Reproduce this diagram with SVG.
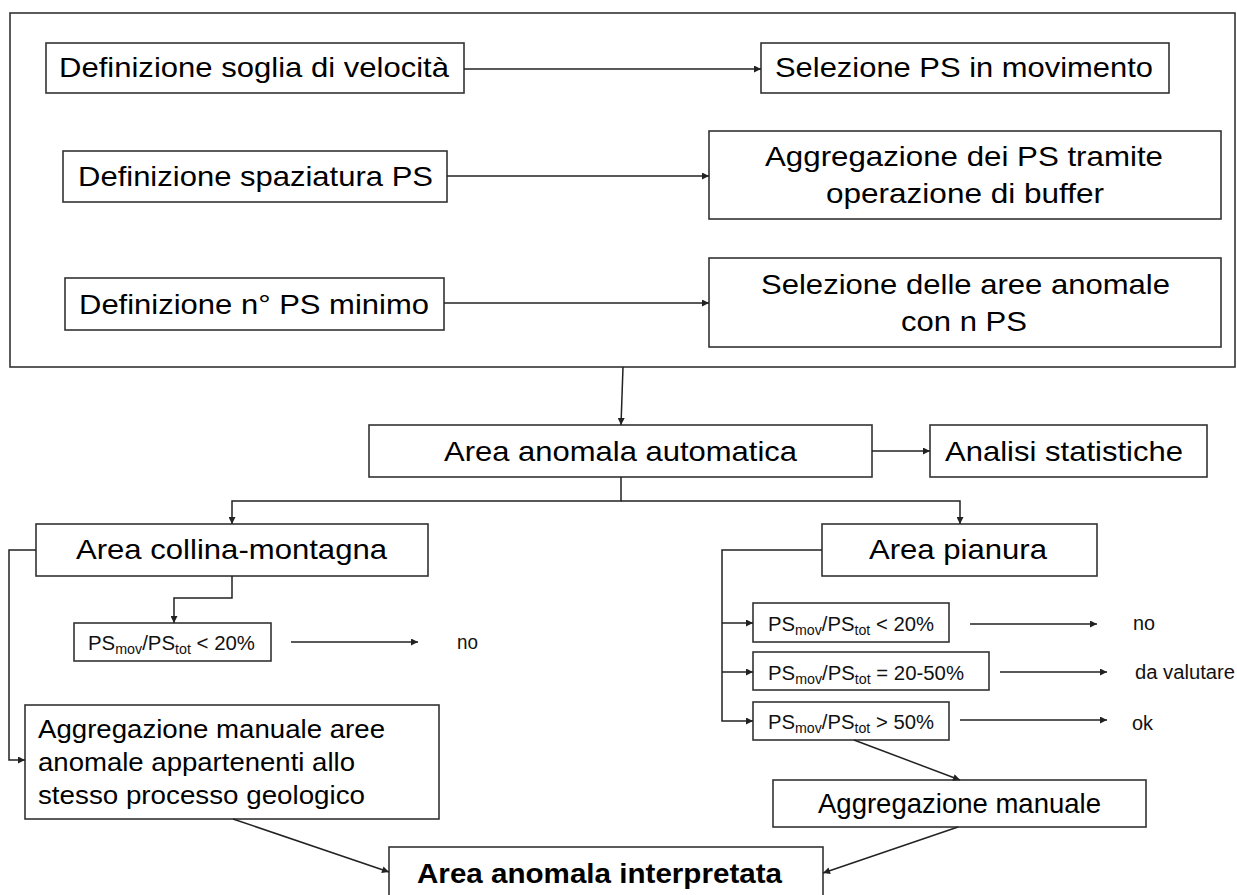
<svg xmlns="http://www.w3.org/2000/svg" width="1237" height="895" viewBox="0 0 1237 895">
<defs>
<marker id="ah" viewBox="0 0 10 10" refX="10" refY="5" markerWidth="9" markerHeight="7" markerUnits="userSpaceOnUse" orient="auto">
<path d="M0,0 L10,5 L0,10 z" fill="#222"/>
</marker>
<style>
.box{fill:#fff;stroke:#333;stroke-width:1.6}
.t{font-family:"Liberation Sans",Arial,sans-serif;font-size:28px;fill:#000}
.m{font-family:"Liberation Sans",Arial,sans-serif;font-size:26px;fill:#000}
.b{font-family:"Liberation Sans",Arial,sans-serif;font-size:28px;font-weight:bold;fill:#000}
.s{font-family:"Liberation Sans",Arial,sans-serif;font-size:20px;fill:#111}
.sub{font-size:14px}
.lbl{font-family:"Liberation Sans",Arial,sans-serif;font-size:20px;fill:#111}
.ca{fill:none;stroke:#222;stroke-width:1.5;marker-end:url(#ah)}
</style>
</defs>
<rect width="1237" height="895" fill="#fff"/>
<g id="frame"><rect class="box" x="10" y="13" width="1225" height="354"/></g>

<g id="n1"><rect class="box" x="46" y="43" width="418" height="50"/><text class="t" x="59" y="77" textLength="390" lengthAdjust="spacingAndGlyphs">Definizione soglia di velocità</text></g>
<g id="n2"><rect class="box" x="761" y="43" width="408" height="50"/><text class="t" x="775" y="77" textLength="378" lengthAdjust="spacingAndGlyphs">Selezione PS in movimento</text></g>
<g id="n3"><rect class="box" x="63" y="151" width="384" height="51"/><text class="t" x="78" y="186" textLength="355" lengthAdjust="spacingAndGlyphs">Definizione spaziatura PS</text></g>
<g id="n4"><rect class="box" x="709" y="131" width="512" height="88"/><text class="t" x="765" y="166" textLength="398" lengthAdjust="spacingAndGlyphs">Aggregazione dei PS tramite</text><text class="t" x="826" y="203" textLength="278" lengthAdjust="spacingAndGlyphs">operazione di buffer</text></g>
<g id="n5"><rect class="box" x="65" y="278" width="379" height="52"/><text class="t" x="79" y="314" textLength="350" lengthAdjust="spacingAndGlyphs">Definizione n° PS minimo</text></g>
<g id="n6"><rect class="box" x="709" y="258" width="512" height="89"/><text class="t" x="761" y="294" textLength="409" lengthAdjust="spacingAndGlyphs">Selezione delle aree anomale</text><text class="t" x="901" y="331" textLength="126" lengthAdjust="spacingAndGlyphs">con n PS</text></g>

<g id="n7"><rect class="box" x="369" y="425" width="503" height="52"/><text class="t" x="444" y="461" textLength="353" lengthAdjust="spacingAndGlyphs">Area anomala automatica</text></g>
<g id="n8"><rect class="box" x="930" y="425" width="277" height="52"/><text class="t" x="945" y="461" textLength="238" lengthAdjust="spacingAndGlyphs">Analisi statistiche</text></g>
<g id="n9"><rect class="box" x="36" y="524" width="392" height="52"/><text class="t" x="76" y="559" textLength="311" lengthAdjust="spacingAndGlyphs">Area collina-montagna</text></g>
<g id="n10"><rect class="box" x="822" y="524" width="275" height="52"/><text class="t" x="869" y="559" textLength="178" lengthAdjust="spacingAndGlyphs">Area pianura</text></g>

<g id="n11"><rect class="box" x="74" y="623" width="197" height="38"/><text class="s" x="88" y="650" textLength="167" lengthAdjust="spacingAndGlyphs">PS<tspan class="sub" dy="4">mov</tspan><tspan dy="-4">/PS</tspan><tspan class="sub" dy="4">tot</tspan><tspan dy="-4"> &lt; 20%</tspan></text></g>
<g id="l1"><text class="lbl" x="457" y="649" textLength="21" lengthAdjust="spacingAndGlyphs">no</text></g>

<g id="n12"><rect class="box" x="25" y="705" width="414" height="114"/><text class="m" x="38" y="738" textLength="347" lengthAdjust="spacingAndGlyphs">Aggregazione manuale aree</text><text class="m" x="38" y="771" textLength="317" lengthAdjust="spacingAndGlyphs">anomale appartenenti allo</text><text class="m" x="38" y="804" textLength="327" lengthAdjust="spacingAndGlyphs">stesso processo geologico</text></g>

<g id="n13"><rect class="box" x="753" y="603" width="196" height="39"/><text class="s" x="768" y="631" textLength="166" lengthAdjust="spacingAndGlyphs">PS<tspan class="sub" dy="4">mov</tspan><tspan dy="-4">/PS</tspan><tspan class="sub" dy="4">tot</tspan><tspan dy="-4"> &lt; 20%</tspan></text></g>
<g id="n14"><rect class="box" x="753" y="652" width="236" height="38"/><text class="s" x="768" y="680" textLength="196" lengthAdjust="spacingAndGlyphs">PS<tspan class="sub" dy="4">mov</tspan><tspan dy="-4">/PS</tspan><tspan class="sub" dy="4">tot</tspan><tspan dy="-4"> = 20-50%</tspan></text></g>
<g id="n15"><rect class="box" x="753" y="702" width="196" height="38"/><text class="s" x="768" y="729" textLength="166" lengthAdjust="spacingAndGlyphs">PS<tspan class="sub" dy="4">mov</tspan><tspan dy="-4">/PS</tspan><tspan class="sub" dy="4">tot</tspan><tspan dy="-4"> &gt; 50%</tspan></text></g>
<g id="l2"><text class="lbl" x="1133" y="630" textLength="22" lengthAdjust="spacingAndGlyphs">no</text></g>
<g id="l3"><text class="lbl" x="1135" y="679" textLength="100" lengthAdjust="spacingAndGlyphs">da valutare</text></g>
<g id="l4"><text class="lbl" x="1132" y="730" textLength="21" lengthAdjust="spacingAndGlyphs">ok</text></g>

<g id="n16"><rect class="box" x="773" y="780" width="373" height="47"/><text class="t" x="818" y="813" textLength="283" lengthAdjust="spacingAndGlyphs">Aggregazione manuale</text></g>
<g id="n17"><rect class="box" x="389" y="847" width="434" height="70"/><text class="b" x="417" y="883" textLength="365" lengthAdjust="spacingAndGlyphs">Area anomala interpretata</text></g>

<g id="connectors">
<path class="ca" d="M464,69 H761"/>
<path class="ca" d="M447,176 H709"/>
<path class="ca" d="M444,303 H709"/>
<path class="ca" d="M623,367 L621,425"/>
<path class="ca" d="M872,451 H930"/>
<path class="ca" d="M621,477 V501 H232 V524"/>
<path class="ca" d="M621,501 H960 V524"/>
<path class="ca" d="M36,550 H9 V760 H25"/>
<path class="ca" d="M232,576 V598 H174 V623"/>
<path class="ca" d="M291,642 H418"/>
<path class="ca" d="M822,550 H722 V721 H753"/>
<path class="ca" d="M722,623 H753"/>
<path class="ca" d="M722,672 H753"/>
<path class="ca" d="M970,624 H1097"/>
<path class="ca" d="M1000,672 H1107"/>
<path class="ca" d="M960,720 H1107"/>
<path class="ca" d="M854,740 L960,780"/>
<path class="ca" d="M233,819 L389,872"/>
<path class="ca" d="M958,827 L823,873"/>
</g>
</svg>
